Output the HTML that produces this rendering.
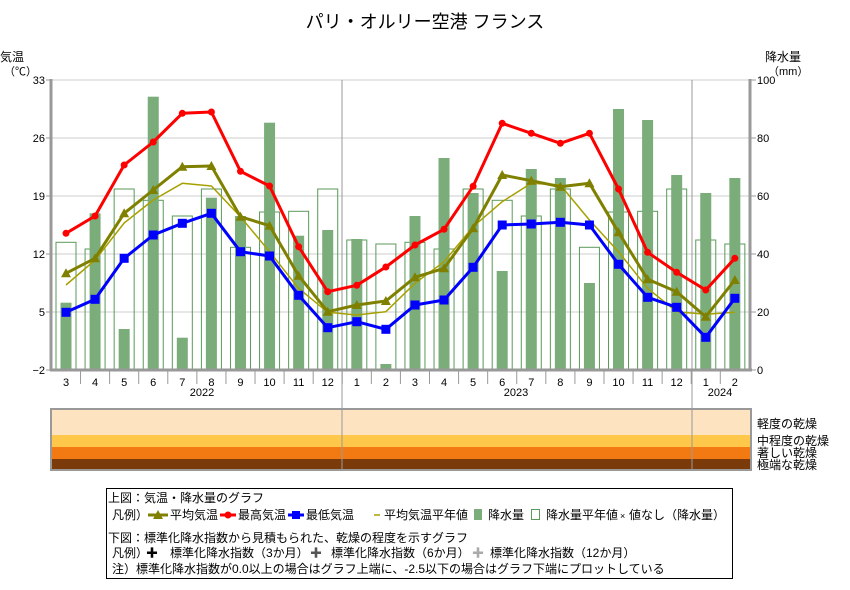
<!DOCTYPE html>
<html><head><meta charset="utf-8"><style>
body{margin:0;background:#fff;}
svg{display:block;font-family:"Liberation Sans","Noto Sans CJK JP",sans-serif;}
</style></head><body>
<svg id="s" width="850" height="590" xmlns="http://www.w3.org/2000/svg"></svg>
<script>
const s=document.getElementById('s');let h='';
const X=i=>66+29.08*i;
// grid
[80,138,196,254,312].forEach(y=>h+=`<line x1="52" y1="${y}" x2="750" y2="${y}" stroke="#ccc" stroke-width="1"/>`);
// normal precip outlines
const nor=[242.3,249,189,200.3,216,189,247.3,212,211.3,189,240,244];
for(let i=0;i<24;i++){const t=nor[i%12];h+=`<rect x="${X(i)-10}" y="${t}" width="20" height="${370-t}" fill="none" stroke="#5a9a5a" stroke-width="1"/>`;}
const pr=[302.7,213.3,329,96.7,337.7,197.7,216,122.7,235.7,230,239,364,216,158,193,271,169,178,283,109,120,175,193,178];
pr.forEach((t,i)=>h+=`<rect x="${X(i)-5.5}" y="${t}" width="11" height="${370-t}" fill="#7aad7a"/>`);
// separators
[342,692].forEach(x=>h+=`<line x1="${x}" y1="80" x2="${x}" y2="470" stroke="#999" stroke-width="1"/>`);
const pl=(a,c,w)=>`<polyline points="${a.map((y,i)=>X(i)+','+y).join(' ')}" fill="none" stroke="${c}" stroke-width="${w}" stroke-linejoin="round"/>`;
const norm=[285,260,223,200,183.3,186,216.7,251.7,288.3,312.3,315,311.7,283.3,261.7,226.7,201.7,183.3,185,220,251.7,288.3,311.7,314.3,312.3];
const mx=[233.3,216,165,142,113.3,112,171.3,186,246.7,291.7,285.3,267,245,229.3,186.3,123.3,133.3,143.3,133.3,189,252.3,272.3,290,258.3];
const av=[273.3,258.3,213.3,190,166.7,166,216.7,225.7,275.7,311.7,305,301,277.3,268.3,228.3,175,180.7,186.7,183.3,232.3,279.3,291.7,316.7,280];
const mn=[312.3,299.3,258.3,235,223.3,213.3,251.7,256,295.3,327.7,321.7,329.3,305,300,267.3,225,224,222.3,225,264.3,297.3,307.3,337.3,298.3];
h+=pl(norm,'#a8a000',1.5);
h+=pl(mx,'#f00',3);mx.forEach((y,i)=>h+=`<circle cx="${X(i)}" cy="${y}" r="3.5" fill="#f00"/>`);
h+=pl(av,'#808000',3);av.forEach((y,i)=>h+=`<polygon points="${X(i)},${y-5} ${X(i)-5},${y+4} ${X(i)+5},${y+4}" fill="#808000"/>`);
h+=pl(mn,'#00f',3);mn.forEach((y,i)=>h+=`<rect x="${X(i)-4.5}" y="${y-4.5}" width="9" height="9" fill="#00f"/>`);
// axes
h+=`<line x1="51" y1="79" x2="51" y2="371" stroke="#999" stroke-width="3"/><line x1="750" y1="79" x2="750" y2="371" stroke="#999" stroke-width="3"/><line x1="50" y1="370" x2="752" y2="370" stroke="#999" stroke-width="3"/>`;
for(let i=1;i<24;i++){const x=X(i)-14.54;h+=`<line x1="${x}" y1="370" x2="${x}" y2="384" stroke="#999"/>`;}
[33,26,19,12,5,-2].forEach((v,k)=>{const y=80+k*58;h+=`<text x="45" y="${y+4}" font-size="11" text-anchor="end">${v==-2?'−2':v}</text><line x1="46" y1="${y}" x2="52" y2="${y}" stroke="#999"/>`;});
[100,80,60,40,20,0].forEach((v,k)=>{const y=80+k*58;h+=`<text x="757" y="${y+4}" font-size="11">${v}</text><line x1="750" y1="${y}" x2="756" y2="${y}" stroke="#999"/>`;});
const ms=[3,4,5,6,7,8,9,10,11,12,1,2];
for(let i=0;i<24;i++)h+=`<text x="${X(i)}" y="386" font-size="11" text-anchor="middle">${ms[i%12]}</text>`;
h+=`<text x="202" y="396" font-size="11" text-anchor="middle">2022</text><text x="516" y="396" font-size="11" text-anchor="middle">2023</text><text x="720" y="396" font-size="11" text-anchor="middle">2024</text>`;
h+=`<text x="425" y="28" font-size="18" text-anchor="middle">パリ・オルリー空港 フランス</text>`;
h+=`<text x="0" y="61" font-size="12">気温</text><text x="4" y="75" font-size="11">（℃）</text><text x="765" y="61" font-size="12">降水量</text><text x="768" y="75" font-size="11">（mm）</text>`;
// lower panel
h+=`<rect x="51" y="410" width="700" height="25" fill="#fde3c0"/><rect x="51" y="435" width="700" height="12" fill="#ffc84a"/><rect x="51" y="447" width="700" height="12" fill="#f37a12"/><rect x="51" y="459" width="700" height="11" fill="#7a3a0a"/>`;
[342,692].forEach(x=>h+=`<line x1="${x}" y1="400" x2="${x}" y2="470" stroke="#999"/>`);
h+=`<rect x="51" y="409" width="700" height="61" fill="none" stroke="#999" stroke-width="2"/>`;
h+=`<g font-size="12"><text x="757" y="428">軽度の乾燥</text><text x="757" y="445">中程度の乾燥</text><text x="757" y="457">著しい乾燥</text><text x="757" y="469">極端な乾燥</text></g>`;
// legend
h+=`<rect x="106.5" y="488.5" width="626" height="90" fill="none" stroke="#000"/>`;
h+=`<g font-size="12"><text x="108" y="502">上図：気温・降水量のグラフ</text>
<text x="112" y="519">凡例）</text><line x1="148" y1="515" x2="168" y2="515" stroke="#808000" stroke-width="3"/><polygon points="158,510 153,519 163,519" fill="#808000"/><text x="170" y="519">平均気温</text>
<line x1="220" y1="515" x2="236" y2="515" stroke="#f00" stroke-width="3"/><circle cx="228" cy="515" r="3.5" fill="#f00"/><text x="238" y="519">最高気温</text>
<line x1="288" y1="515" x2="304" y2="515" stroke="#00f" stroke-width="3"/><rect x="292" y="511" width="8" height="8" fill="#00f"/><text x="306" y="519">最低気温</text>
<line x1="374" y1="515" x2="380" y2="515" stroke="#a8a000" stroke-width="1.5"/><text x="384" y="519">平均気温平年値</text>
<rect x="474" y="509" width="8" height="11" fill="#7aad7a"/><text x="488" y="519">降水量</text>
<rect x="531.5" y="509.5" width="8" height="10" fill="none" stroke="#5a9a5a"/><text x="546" y="519">降水量平年値</text><text x="620" y="519" font-size="9">×</text><text x="629" y="519">値なし（降水量）</text>
<text x="108" y="542">下図：標準化降水指数から見積もられた、乾燥の程度を示すグラフ</text>
<text x="112" y="557">凡例）</text><text x="146" y="557">✚</text><text x="170" y="557">標準化降水指数（3か月）</text>
<text x="310" y="557" fill="#555">✚</text><text x="331" y="557">標準化降水指数（6か月）</text>
<text x="472" y="557" fill="#aaa">✚</text><text x="490" y="557">標準化降水指数（12か月）</text>
<text x="112" y="573">注）標準化降水指数が0.0以上の場合はグラフ上端に、-2.5以下の場合はグラフ下端にプロットしている</text></g>`;
s.innerHTML=h;
</script>
</body></html>
